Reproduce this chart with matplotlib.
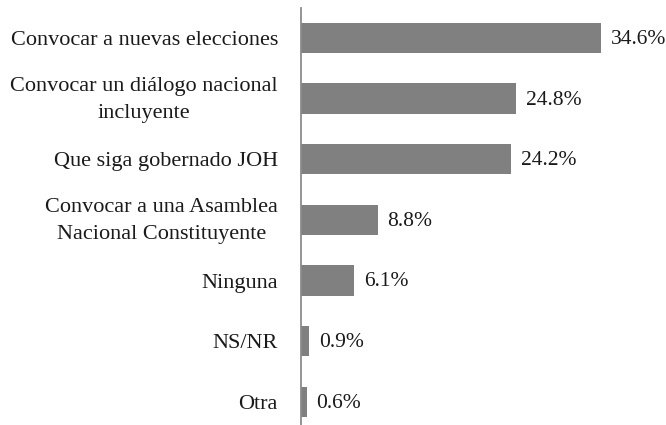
import matplotlib
matplotlib.use('Agg')
import matplotlib.pyplot as plt
import matplotlib.transforms as mtransforms

categories = ['Convocar a nuevas elecciones',
              'Convocar un diálogo nacional\nincluyente',
              'Que siga gobernado JOH',
              'Convocar a una Asamblea\nNacional Constituyente',
              'Ninguna',
              'NS/NR',
              'Otra']
values = [34.6, 24.8, 24.2, 8.8, 6.1, 0.9, 0.6]

plt.rcParams['font.family'] = ['Liberation Serif', 'DejaVu Serif']

fig = plt.figure(figsize=(6.66, 4.25), dpi=100)
ax = fig.add_axes([0.4527, -0.017, 0.5194, 0.999])

pos = list(range(len(categories)))
ax.barh(pos, values, height=0.5, color='#808080')
ax.set_ylim(6.5, -0.5)
ax.set_xlim(0, 40)

ax.set_yticks(pos)
ax.set_yticklabels(categories, fontsize=16, color='#1a1a1a',
                   multialignment='center', linespacing=1.6)
ax.tick_params(axis='y', length=0, pad=17)
ax.set_xticks([])

# nudge the two-line labels up a bit
shift = mtransforms.ScaledTranslation(0, 4 / 72, fig.dpi_scale_trans)
for lab in ax.get_yticklabels():
    if '\n' in lab.get_text():
        lab.set_transform(lab.get_transform() + shift)

for s in ['top', 'right', 'bottom']:
    ax.spines[s].set_visible(False)
ax.spines['left'].set_color('#8c8c8c')
ax.spines['left'].set_linewidth(1.3)

for p, v in zip(pos, values):
    ax.annotate('%.1f%%' % v, xy=(v, p), xytext=(7, -1), textcoords='offset points',
                va='center', ha='left', fontsize=15.5, color='#1a1a1a')

fig.savefig('out.png', dpi=100)
